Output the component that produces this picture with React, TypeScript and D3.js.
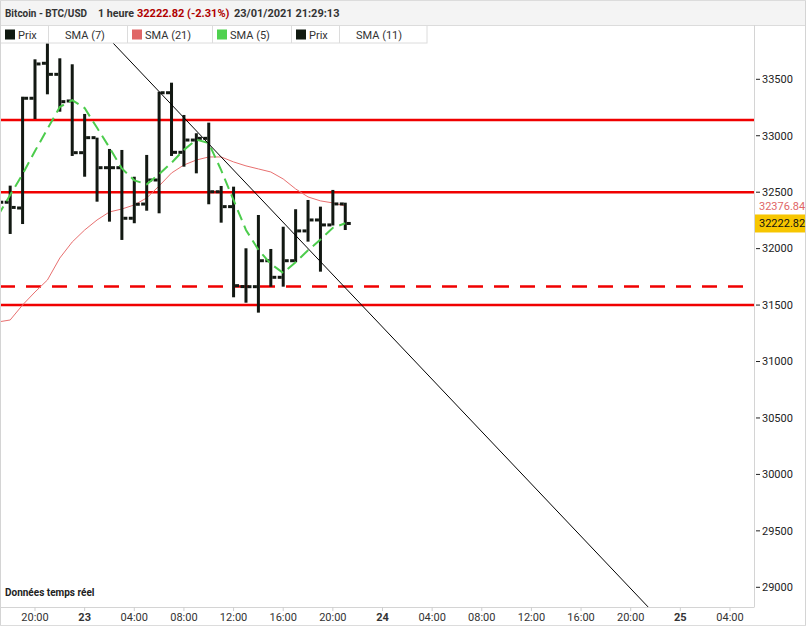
import React from 'react';
import * as d3 from 'd3';

const W = 806;
const H = 626;
const PLOT = { left: 0, right: 754, top: 25, bottom: 607 };
const FONT = "Roboto, 'Liberation Sans', Arial, sans-serif";

// hours since 2021-01-22 00:00 UTC (one bar per hour)
const barHours = [17, 18, 19, 20, 21, 22, 23, 24, 25, 26, 27, 28, 29, 30, 31, 32, 33, 34, 35, 36, 37, 38, 39, 40, 41, 42, 43, 44, 45];
const opens = [32330, 32411, 32360, 33332, 33642, 33544, 33308, 32850, 32983, 32717, 32717, 32269, 32395, 32608, 33381, 32853, 32962, 32977, 32504, 32372, 31664, 31663, 31893, 31746, 31893, 32157, 32254, 32210, 32396];
const highs = [32440, 32558, 33346, 33677, 33819, 33686, 33633, 33193, 32983, 32883, 32874, 32637, 32830, 33390, 33470, 33184, 33022, 33116, 32555, 32549, 32003, 32298, 31997, 32194, 32349, 32431, 32372, 32520, 32407];
const lows = [32300, 32130, 32218, 33148, 33367, 33213, 32821, 32637, 32416, 32239, 32077, 32225, 32336, 32313, 32821, 32726, 32667, 32393, 32230, 31569, 31521, 31433, 31663, 31663, 31880, 32062, 31796, 32205, 32165];
const closes = [32411, 32365, 33332, 33636, 33544, 33302, 32850, 32983, 32717, 32717, 32269, 32393, 32608, 33381, 32853, 32962, 32977, 32504, 32372, 31672, 31663, 31893, 31746, 31893, 32157, 32254, 32210, 32396, 32223];

const sma5 = [32290, 32475, 32660, 32865, 33060, 33255, 33315, 33245, 33070, 32895, 32710, 32605, 32570, 32660, 32760, 32875, 32965, 32935, 32695, 32430, 32165, 31990, 31865, 31785, 31880, 31985, 32080, 32185, 32225];
const sma21 = [31350, 31368, 31501, 31616, 31722, 31917, 32059, 32165, 32254, 32325, 32351, 32387, 32449, 32555, 32670, 32741, 32785, 32812, 32812, 32768, 32733, 32706, 32679, 32617, 32529, 32458, 32423, 32405, 32377];

const yTicks = [29000, 29500, 30000, 30500, 31000, 31500, 32000, 32500, 33000, 33500];
const solidLevels = [33140, 32500, 31500];
const dashedLevels = [31665];
const trendHours = [26.29, 69.4];
const trendPrices = [33821, 28826];

const lastPrice = 32222.82;
const lastSma21 = 32376.84;

const legendItems = [
  { label: 'Prix', color: '#111a11', x0: 0, x1: 48 },
  { label: 'SMA (7)', color: null, x0: 48, x1: 127 },
  { label: 'SMA (21)', color: '#e06666', x0: 127, x1: 212 },
  { label: 'SMA (5)', color: '#4fd14f', x0: 212, x1: 291 },
  { label: 'Prix', color: '#111a11', x0: 291, x1: 339 },
  { label: 'SMA (11)', color: null, x0: 339, x1: 427 },
];

const base = Date.UTC(2021, 0, 22, 0);
const toDate = (h: number) => new Date(base + h * 3600e3);

export default function App() {
  const x = d3.scaleUtc()
    .domain([toDate(20), toDate(76)])
    .range([35, 730]);
  const y = d3.scaleLinear().domain([29000, 33500]).range([587.3, 79.3]);

  const xTicks = d3.utcHour.every(4)!.range(x.invert(PLOT.left), x.invert(PLOT.right));
  const fmtTick = (d: Date) => (d.getUTCHours() === 0 ? d3.utcFormat('%d')(d) : d3.utcFormat('%H:%M')(d));

  const lineGen = (vals: number[]) =>
    d3.line<number>()
      .x((_, i) => x(toDate(barHours[i])))
      .y((v) => y(v))(vals) || '';

  const trendPath = d3.line<number>()
    .x((_, i) => x(toDate(trendHours[i])))
    .y((v) => y(v))(trendPrices) || '';

  return (
    <svg width={W} height={H} style={{ position: 'absolute', left: 0, top: 0, background: '#fff' }} fontFamily={FONT}>
      <defs>
        <clipPath id="plotClip">
          <rect x={PLOT.left + 1} y={PLOT.top} width={PLOT.right - PLOT.left - 1} height={PLOT.bottom - PLOT.top} />
        </clipPath>
      </defs>
      <rect x={0} y={0} width={W} height={H} fill="#fff" />
      {/* header */}
      <rect x={0} y={0} width={W} height={25} fill="#f4f4f4" />
      <line x1={0} x2={W} y1={25.5} y2={25.5} stroke="#dcdcdc" />
      <text x={5} y={17} fontSize={11} fontWeight={700} fill="#333" textLength={82} lengthAdjust="spacingAndGlyphs">Bitcoin - BTC/USD</text>
      <text x={98} y={17} fontSize={11} fontWeight={700} fill="#333" textLength={36} lengthAdjust="spacingAndGlyphs">1 heure</text>
      <text x={137} y={17} fontSize={11} fontWeight={700} fill="#b00000">32222.82 (-2.31%)</text>
      <text x={234} y={17} fontSize={11} fontWeight={700} fill="#333">23/01/2021 21:29:13</text>

      {/* plot */}
      <g clipPath="url(#plotClip)">
        {solidLevels.map((p, i) => (
          <line key={'s' + i} x1={PLOT.left} x2={PLOT.right} y1={y(p)} y2={y(p)} stroke="#f00000" strokeWidth={2.5} />
        ))}
        {dashedLevels.map((p, i) => (
          <line key={'d' + i} x1={PLOT.left} x2={PLOT.right} y1={y(p)} y2={y(p)} stroke="#f00000" strokeWidth={2.5} strokeDasharray="15,11" />
        ))}
        <path d={lineGen(sma21)} fill="none" stroke="#e87070" strokeWidth={1} />
        {barHours.map((h, i) => {
          const cx = x(toDate(h));
          return (
            <g key={'b' + i} fill="#121812">
              <rect x={cx - 1.5} y={y(highs[i])} width={3} height={Math.max(1, y(lows[i]) - y(highs[i]))} />
              <rect x={cx - 5.5} y={y(opens[i]) - 1.5} width={4} height={3} />
              <rect x={cx + 1.5} y={y(closes[i]) - 1.5} width={4} height={3} />
            </g>
          );
        })}
        <path d={lineGen(sma5)} fill="none" stroke="#4ccc4c" strokeWidth={2} strokeDasharray="11,6" />
        <path d={trendPath} fill="none" stroke="#000" strokeWidth={1} />
      </g>

      {/* legend */}
      <rect x={0.5} y={25.5} width={426.5} height={17.5} fill="#fff" stroke="#dcdcdc" />
      {legendItems.map((it, i) => (
        <g key={'l' + i}>
          {i > 0 && <line x1={it.x0 + 0.5} x2={it.x0 + 0.5} y1={25.5} y2={43} stroke="#dcdcdc" />}
          {it.color && <rect x={it.x0 + 5} y={29.5} width={10} height={10} fill={it.color} />}
          <text x={it.color ? it.x0 + 18 : it.x0 + 17} y={38.5} fontSize={11} fill="#333">{it.label}</text>
        </g>
      ))}

      {/* axes */}
      <line x1={PLOT.right + 0.5} x2={PLOT.right + 0.5} y1={PLOT.top} y2={PLOT.bottom} stroke="#d4d4d4" />
      <line x1={PLOT.left} x2={PLOT.right + 0.5} y1={PLOT.bottom + 0.5} y2={PLOT.bottom + 0.5} stroke="#d4d4d4" />
      <line x1={0.5} x2={0.5} y1={0} y2={H} stroke="#d4d4d4" />
      <line x1={W - 0.5} x2={W - 0.5} y1={0} y2={H} stroke="#d4d4d4" />
      <line x1={0} x2={W} y1={0.5} y2={0.5} stroke="#dcdcdc" />
      <line x1={0} x2={W} y1={H - 0.5} y2={H - 0.5} stroke="#dcdcdc" />
      {yTicks.map((t) => (
        <g key={'yt' + t}>
          <line x1={PLOT.right + 2} x2={PLOT.right + 6} y1={y(t)} y2={y(t)} stroke="#222" />
          <text x={PLOT.right + 8} y={y(t)} dy="0.35em" fontSize={11} fill="#222">{t}</text>
        </g>
      ))}
      <text x={PLOT.right + 5} y={y(lastSma21)} dy="0.35em" fontSize={11} fill="#e06666">{lastSma21.toFixed(2)}</text>
      <rect x={PLOT.right + 1} y={y(lastPrice) - 9} width={W - PLOT.right - 2} height={18} fill="#f7c600" />
      <text x={PLOT.right + 5} y={y(lastPrice)} dy="0.35em" fontSize={11} fill="#111">{lastPrice.toFixed(2)}</text>

      {xTicks.map((d, i) => (
        <g key={'xt' + i}>
          <line x1={x(d)} x2={x(d)} y1={PLOT.bottom} y2={PLOT.bottom + 4} stroke="#cfcfcf" />
          <text x={x(d)} y={621} textAnchor="middle" fontSize={11} fontWeight={d.getUTCHours() === 0 ? 700 : 400} fill="#333">{fmtTick(d)}</text>
        </g>
      ))}
      <text x={5} y={596} fontSize={10} fontWeight={700} fill="#222">Données temps réel</text>
    </svg>
  );
}
